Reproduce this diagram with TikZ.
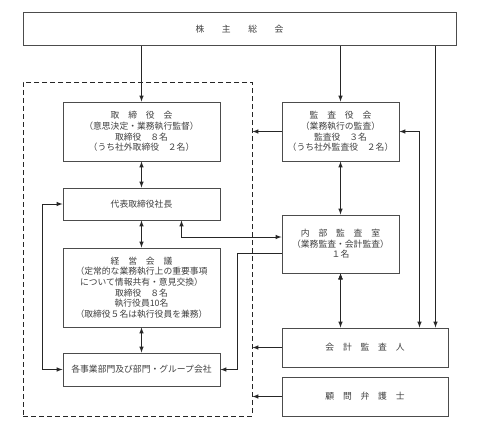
\documentclass[tikz,border=0pt]{standalone}
\usepackage{fontspec}
\setmainfont{Noto Sans CJK JP}
\usetikzlibrary{positioning,arrows}

\begin{document}
\begin{tikzpicture}[x=1pt, y=-1pt, >=latex,
      box/.style={draw=black!70, line width=1pt, align=center, text=black!75,
                  font=\fontsize{8.8}{10.6}\selectfont, inner sep=0pt},
      link/.style={line width=1pt, black!85}]
      \fill [white] (0, 0) rectangle (479, 436);
      \useasboundingbox (0, 0) rectangle (479, 436);
      % group frame
      \node (group) [draw=black!85, dash pattern=on 5pt off 3pt, line width=1pt, minimum width=229pt, minimum height=334pt] at (137.5, 249) {};
      \node (soukai) [box, minimum width=433pt, minimum height=33pt] at (239.5, 29.5) {株　　主　　総　　会};
      % left column
      \node (torishimari) [box, minimum width=157pt, minimum height=59pt] at (141.5, 131.5)
            {取　締　役　会\\（意思決定・業務執行監督）\\取締役　８名\\（うち社外取締役　２名）};
      \node (daihyo) [box, minimum width=157pt, minimum height=32pt] at (141.5, 204) {代表取締役社長};
      \node (keiei) [box, minimum width=157pt, minimum height=79pt] at (141.5, 287.5)
            {経　営　会　議\\（定常的な業務執行上の重要事項\\について情報共有・意見交換）\\取締役　８名\\執行役員10名\\（取締役５名は執行役員を兼務）};
      \node (jigyo) [box, minimum width=157pt, minimum height=33pt] at (141.5, 369.5) {各事業部門及び部門・グループ会社};
      % right column
      \node (kansayaku) [box, minimum width=117pt, minimum height=59pt] at (340.5, 131.5)
            {監　査　役　会\\（業務執行の監査）\\監査役　３名\\（うち社外監査役　２名）};
      \node (naibu) [box, minimum width=117pt, minimum height=58pt] at (340.5, 244)
            {内　部　監　査　室\\（業務監査・会計監査）\\１名};
      \node (kaikei) [box, minimum width=166pt, minimum height=39pt] at (365, 347.5) {会　計　監　査　人};
      \node (komon) [box, minimum width=166pt, minimum height=39pt] at (365, 396.5) {顧　問　弁　護　士};
      % connectors
      \draw [link, ->] (torishimari.north |- soukai.south) -- (torishimari.north);
      \draw [link, ->] (kansayaku.north |- soukai.south) -- (kansayaku.north);
      \draw [link, ->] ([xshift=-13pt]kaikei.north east |- soukai.south) -- ([xshift=-13pt]kaikei.north east);
      \draw [link, <->] (kansayaku.east) -| ([xshift=-29pt]kaikei.north east);
      \draw [link, <->] (torishimari) edge (daihyo)
                        (daihyo) edge (keiei)
                        (keiei) edge (jigyo);
      \draw [link, <->] (kansayaku) edge (naibu)
                        (naibu.south) edge (naibu.south |- kaikei.north);
      \draw [link, <->] (daihyo.west) -- ++(-20, 0) |- (jigyo.west);
      \draw [link, <->] ([xshift=40pt]daihyo.south) |- ([yshift=7pt]naibu.west);
      \draw [link, ->] ([yshift=-9pt]naibu.west) -- ++(-44, 0) |- (jigyo.east);
      \draw [link, ->] (kansayaku.west) -- (kansayaku.west -| group.east);
      \draw [link, ->] (kaikei.west) -- (kaikei.west -| group.east);
      \draw [link, ->] (komon.west) -- (komon.west -| group.east);
\end{tikzpicture}
\end{document}
